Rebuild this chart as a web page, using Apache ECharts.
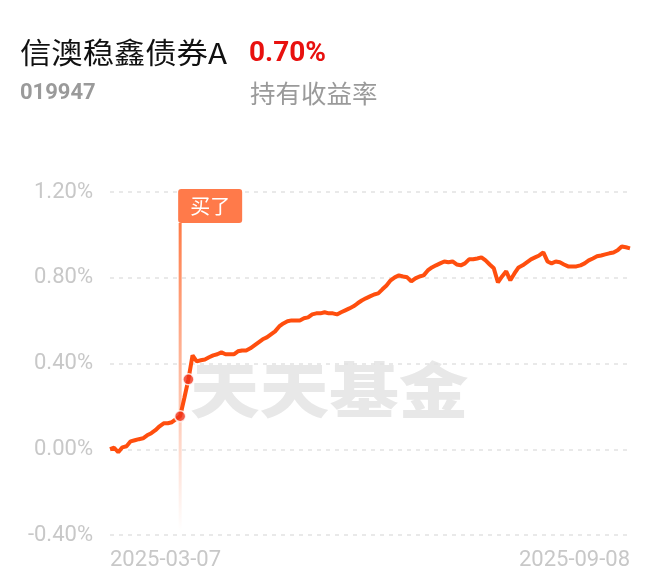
<!DOCTYPE html>
<html>
<head>
<meta charset="utf-8">
<style>
html,body{margin:0;padding:0;background:#fff;}
#chart{width:660px;height:585px;}
</style>
<script src="https://cdn.jsdelivr.net/npm/echarts@6/dist/echarts.min.js"></script>
</head>
<body>
<div id="chart"></div>
<script>
// ---- data ----
const fundName = '信澳稳鑫债券A';
const fundCode = '019947';
const holdYield = '0.70%';
const holdYieldLabel = '持有收益率';
const watermark = '天天基金';
const buyLabel = '买了';
const xTickLabels = ['2025-03-07', '2025-09-08'];
const yTicks = [-0.4, 0, 0.4, 0.8, 1.2];
// holding yield, % (one value per trading day)
const values = [
  0.000, 0.007, -0.014, 0.009, 0.014, 0.037, 0.042, 0.047, 0.051, 0.065,
  0.075, 0.089, 0.107, 0.121, 0.121, 0.126, 0.140, 0.154, 0.238, 0.326,
  0.438, 0.410, 0.415, 0.419, 0.429, 0.438, 0.443, 0.452, 0.443, 0.443,
  0.443, 0.457, 0.461, 0.461, 0.471, 0.485, 0.499, 0.513, 0.522, 0.536,
  0.550, 0.573, 0.587, 0.597, 0.601, 0.601, 0.601, 0.611, 0.615, 0.629,
  0.634, 0.634, 0.639, 0.634, 0.634, 0.629, 0.639, 0.648, 0.657, 0.667,
  0.681, 0.694, 0.704, 0.713, 0.722, 0.727, 0.746, 0.764, 0.788, 0.802,
  0.811, 0.806, 0.802, 0.783, 0.797, 0.806, 0.811, 0.834, 0.848, 0.858,
  0.867, 0.876, 0.872, 0.876, 0.862, 0.858, 0.867, 0.886, 0.886, 0.890,
  0.895, 0.881, 0.862, 0.844, 0.778, 0.806, 0.830, 0.788, 0.820, 0.848,
  0.858, 0.872, 0.886, 0.895, 0.904, 0.918, 0.876, 0.867, 0.876, 0.872,
  0.862, 0.853, 0.853, 0.853, 0.858, 0.867, 0.881, 0.890, 0.900, 0.904,
  0.909, 0.914, 0.918, 0.928, 0.946, 0.942, 0.937
];
const buyIndex = 17;
const markedIndices = [17, 19];

const categories = values.map((_, i) => String(i));
const lastIdx = values.length - 1;

const chart = echarts.init(document.getElementById('chart'), null, {renderer: 'canvas'});
const option = {
  animation: false,
  backgroundColor: '#ffffff',
  grid: {left: 110, right: 30, top: 192, bottom: 50},
  graphic: [
    {type: 'text', left: 20, top: 38, scaleX: 1.08, style: {text: fundName, fill: '#111', font: '29px "Noto Sans CJK SC"'}},
    {type: 'text', left: 249, top: 40, style: {text: holdYield, fill: '#e8110f', font: 'bold 28px Roboto'}},
    {type: 'text', left: 20, top: 82, style: {text: fundCode, fill: '#9a9a9a', font: 'bold 22px Roboto'}},
    {type: 'text', left: 250, top: 81, style: {text: holdYieldLabel, fill: '#9a9a9a', font: '25.5px "Noto Sans CJK SC"'}},
    {type: 'text', left: 190, top: 360, z: -10, scaleX: 1.16, style: {text: watermark, fill: '#e8e8e8', font: '900 60px "Noto Sans CJK SC"'}}
  ],
  xAxis: {
    type: 'category',
    data: categories,
    boundaryGap: false,
    axisLine: {show: false},
    axisTick: {show: false},
    splitLine: {show: false},
    axisLabel: {
      interval: (i) => i === 0 || i === lastIdx,
      formatter: (v, i) => (i === 0 ? xTickLabels[0] : xTickLabels[1]),
      color: '#c8c8c8',
      fontSize: 22,
      fontFamily: 'Roboto',
      margin: 14,
      alignMinLabel: 'left',
      alignMaxLabel: 'right'
    }
  },
  yAxis: {
    type: 'value',
    min: yTicks[0],
    max: yTicks[yTicks.length - 1],
    interval: 0.4,
    axisLine: {show: false},
    axisTick: {show: false},
    axisLabel: {
      formatter: (v) => v.toFixed(2) + '%',
      color: '#c8c8c8',
      fontSize: 22,
      fontFamily: 'Roboto',
      margin: 17
    },
    splitLine: {lineStyle: {color: '#e2e2e2', width: 1.5, type: [4, 5]}}
  },
  series: [
    {
      type: 'custom',
      clip: false,
      z: 1,
      data: [[buyIndex]],
      renderItem: (params, api) => {
        const top = api.coord([api.value(0), yTicks[yTicks.length - 1]]);
        const bot = api.coord([api.value(0), -0.38]);
        const x = top[0];
        const boxTop = top[1] - 3;
        const boxH = 34;
        return {
          type: 'group',
          children: [
            {type: 'rect', shape: {x: x - 1.5, y: boxTop + boxH, width: 3, height: bot[1] - boxTop - boxH},
             style: {fill: new echarts.graphic.LinearGradient(0, 0, 0, 1, [
               {offset: 0, color: 'rgba(255,122,69,1)'},
               {offset: 0.6, color: 'rgba(255,150,110,0.55)'},
               {offset: 1, color: 'rgba(255,160,130,0)'}])}},
            {type: 'rect', shape: {x: x - 2, y: boxTop, width: 64, height: boxH, r: 3}, style: {fill: '#ff7a4a'}},
            {type: 'text', x: x + 30, y: boxTop + boxH / 2, style: {text: buyLabel, fill: '#fff', font: '20px "Noto Sans CJK SC"', align: 'center', verticalAlign: 'middle'}}
          ]
        };
      }
    },
    {
      type: 'line',
      data: values,
      z: 3,
      showSymbol: false,
      symbol: 'none',
      lineStyle: {color: '#ff4e0e', width: 4},
      itemStyle: {color: '#ff4e0e'}
    },
    {
      type: 'scatter',
      z: 4,
      data: markedIndices.map(i => [i, values[i]]),
      symbolSize: 11,
      itemStyle: {color: '#f0321a', borderColor: '#ffffff', borderWidth: 1.5}
    }
  ]
};
chart.setOption(option);
</script>
</body>
</html>
